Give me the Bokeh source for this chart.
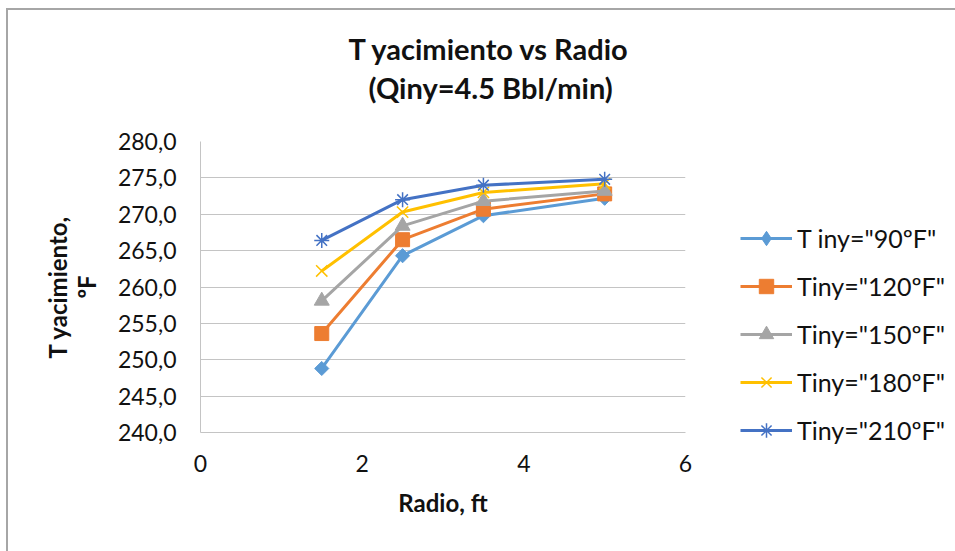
import math
from bokeh.plotting import figure
from bokeh.models import FixedTicker, Legend, LegendItem, Range1d, Title
from bokeh.embed import file_html
from bokeh.resources import INLINE

# ---- data ----
radio = [1.5, 2.5, 3.5, 5.0]
t_90 = [248.8, 264.3, 269.8, 272.2]
t_120 = [253.6, 266.5, 270.7, 272.8]
t_150 = [258.1, 268.4, 271.8, 273.2]
t_180 = [262.2, 270.3, 273.0, 274.2]
t_210 = [266.4, 272.0, 274.0, 274.8]
series_labels = ['T iny="90ºF"', 'Tiny="120ºF"', 'Tiny="150ºF"', 'Tiny="180ºF"', 'Tiny="210ºF"']
y_ticks = [240, 245, 250, 255, 260, 265, 270, 275, 280]
y_tick_labels = ["240,0", "245,0", "250,0", "255,0", "260,0", "265,0", "270,0", "275,0", "280,0"]
x_ticks = [0, 2, 4, 6]
x_tick_labels = ["0", "2", "4", "6"]
title_lines = ["T yacimiento vs Radio", "(Qiny=4.5 Bbl/min)"]
y_label = "T yacimiento,\nºF"
x_label = "Radio, ft"

FONT = "Lato"
TXT = "#111111"
GRID = "#c4c4c4"

p = figure(frame_width=485, frame_height=291, output_backend="svg", toolbar_location=None,
           x_range=Range1d(0, 6), y_range=Range1d(240, 280),
           min_border_left=192, min_border_right=270, min_border_top=131,
           min_border_bottom=119, title=None)
p.styles = {"margin-left": "6px", "margin-top": "8px",
            "border-left": "2px solid #a6a6a6", "border-top": "2px solid #a6a6a6"}
p.outline_line_color = None
p.background_fill_color = "white"
p.border_fill_color = "white"

p.xgrid.grid_line_color = None
p.ygrid.grid_line_color = GRID
p.ygrid.grid_line_width = 1
p.ygrid.ticker = FixedTicker(ticks=y_ticks)

p.xaxis.ticker = FixedTicker(ticks=x_ticks)
p.yaxis.ticker = FixedTicker(ticks=y_ticks)
p.xaxis.major_label_overrides = {t: s for t, s in zip(x_ticks, x_tick_labels)}
p.yaxis.major_label_overrides = {t: s for t, s in zip(y_ticks, y_tick_labels)}
for ax in (p.xaxis, p.yaxis):
    ax.axis_line_color = GRID
    ax.axis_line_width = 1
    ax.major_tick_line_color = None
    ax.minor_tick_line_color = None
    ax.major_tick_out = 0
    ax.major_tick_in = 0
    ax.major_label_text_font = FONT
    ax.major_label_text_font_size = "23px"
    ax.major_label_text_color = TXT
    ax.axis_label_text_font = FONT
    ax.axis_label_text_font_style = "bold"
    ax.axis_label_text_font_size = "24px"
    ax.axis_label_text_color = TXT
p.xaxis.major_label_standoff = 22
p.yaxis.major_label_standoff = 24
p.xaxis.axis_label = x_label
p.yaxis.axis_label = y_label
p.xaxis.axis_label_standoff = 13
p.yaxis.axis_label_standoff = 14
p.yaxis.axis_label_text_line_height = 1.0

colors = ["#5B9BD5", "#ED7D31", "#A5A5A5", "#FFC000", "#4472C4"]
values = [t_90, t_120, t_150, t_180, t_210]
markers = ["square", "square", "triangle", "x", "asterisk"]
angles = [math.pi / 4, 0, 0, 0, 0]
sizes = [10, 14, 15, 16, 15]

items = []
for i, (lab, ys, c, m, a, s) in enumerate(zip(series_labels, values, colors, markers, angles, sizes)):
    r1 = p.line(radio, ys, line_color=c, line_width=3)
    if m in ("x", "asterisk"):
        r2 = p.scatter(radio, ys, marker=m, size=s, line_color=c, line_width=1.5,
                       fill_color=None)
    else:
        r2 = p.scatter(radio, ys, marker=m, size=s, angle=a, line_color=c,
                       fill_color=c, line_width=1)
    if i == 0:
        # legend-only sample (no visible point) for the diamond series
        r2 = p.scatter([float("nan")], [float("nan")], marker="diamond", size=s,
                       line_color=c, fill_color=c)
    items.append(LegendItem(label=lab, renderers=[r1, r2]))

legend = Legend(items=items, location=(55, -16), orientation="vertical",
                glyph_width=52, glyph_height=36, label_height=36, spacing=12,
                label_standoff=5, padding=0, margin=0,
                border_line_color=None, background_fill_alpha=0,
                label_text_font=FONT, label_text_font_size="25px",
                label_text_color=TXT)
p.add_layout(legend, "right")

# title: spacer nearest the plot, then line 2, then line 1
spacer = Title(text=" ", text_font_size="10px", standoff=22, text_color="white")
t2 = Title(text=title_lines[1], align="left", offset=168, standoff=4,
           text_font=FONT, text_font_style="bold", text_font_size="29px",
           text_color=TXT)
t1 = Title(text=title_lines[0], align="left", offset=148, standoff=0,
           text_font=FONT, text_font_style="bold", text_font_size="29px",
           text_color=TXT)
p.add_layout(spacer, "above")
p.add_layout(t2, "above")
p.add_layout(t1, "above")

open("out.html", "w").write(file_html(p, INLINE))
